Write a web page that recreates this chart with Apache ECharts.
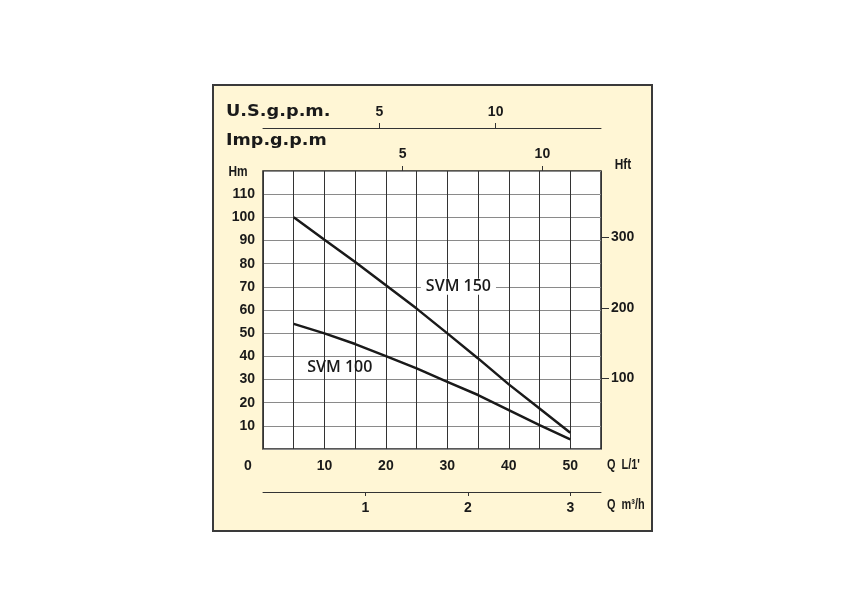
<!DOCTYPE html>
<html>
<head>
<meta charset="utf-8">
<script src="https://cdn.jsdelivr.net/npm/echarts@6/dist/echarts.min.js"></script>
<style>
  html, body { margin: 0; padding: 0; background: #fff; }
  #chart { width: 865px; height: 615px; }
</style>
</head>
<body>
<div id="chart"></div>
<script>
// flow Q (L/min) where the curves are read
var qValues = [5, 10, 15, 20, 25, 30, 35, 40, 45, 50];
// head Hm for each pump
var svm150 = [100, 90.3, 80.7, 70.7, 60.6, 49.9, 39.1, 27.9, 17.5, 7];
var svm100 = [54, 49.9, 45.3, 40.1, 34.8, 29.0, 23.3, 16.8, 10.3, 4.2];

// secondary scales
var hftTicks = [100, 200, 300];
var usTicks = [5, 10];
var impTicks = [5, 10];
var m3hTicks = [1, 2, 3];

var qMax = 55, hMax = 120;
var FT = 0.3048, US_GAL = 3.78541, IMP_GAL = 4.54609, M3H = 1000 / 60;

var labelFont = "'Liberation Sans', sans-serif";
var ink = '#1a1a1a';

function pairs(xs, ys) {
  return xs.map(function (x, i) { return [x, ys[i]]; });
}

var chart = echarts.init(document.getElementById('chart'));

var tickLabel = { color: ink, fontFamily: labelFont, fontSize: 14, fontWeight: 'bold' };
var narrow = "bold 14px " + labelFont;
var curveLabel = { show: true, position: 'inside', formatter: '{b}', color: ink, fontFamily: "'Open Sans', sans-serif", fontSize: 16, fontWeight: 600 };

chart.setOption({
  animation: false,
  graphic: [
    { type: 'rect', z: -1, shape: { x: 213, y: 85, width: 439, height: 446 },
      style: { fill: '#fff6d5', stroke: '#3a3a3a', lineWidth: 2 } },
    { type: 'text', z: 100, x: 226, y: 112, scaleX: 1.18, style: { text: 'U.S.g.p.m.', fill: ink, font: "bold 15px 'DejaVu Sans'", verticalAlign: 'middle' } },
    { type: 'text', z: 100, x: 226, y: 141, scaleX: 1.17, style: { text: 'Imp.g.p.m', fill: ink, font: "bold 15px 'DejaVu Sans'", verticalAlign: 'middle' } },
    { type: 'text', z: 100, x: 238, y: 172, scaleX: 0.85, style: { text: 'Hm', fill: ink, font: narrow, align: 'center', verticalAlign: 'middle' } },
    { type: 'text', z: 100, x: 623, y: 165, scaleX: 0.85, style: { text: 'Hft', fill: ink, font: narrow, align: 'center', verticalAlign: 'middle' } },
    { type: 'text', z: 100, x: 248, y: 466, style: { text: '0', fill: ink, font: narrow, align: 'center', verticalAlign: 'middle' } },
    { type: 'text', z: 100, x: 607, y: 465, scaleX: 0.78, style: { text: "Q  L/1'", fill: ink, font: narrow, verticalAlign: 'middle' } },
    { type: 'text', z: 100, x: 607, y: 505, scaleX: 0.78, style: { text: 'Q  m³/h', fill: ink, font: narrow, verticalAlign: 'middle' } }
  ],
  grid: {
    left: 263, top: 171, right: 264, bottom: 166,
    show: true, backgroundColor: '#fff', borderColor: '#222', borderWidth: 1.5
  },
  xAxis: [
    {
      type: 'value', position: 'bottom', min: 0, max: qMax, interval: 5,
      axisLine: { show: false, onZero: false }, axisTick: { show: false },
      axisLabel: Object.assign({ margin: 10, formatter: function (v) { return v > 0 && v % 10 === 0 && v <= 50 ? v : ''; } }, tickLabel),
      splitLine: { show: true, lineStyle: { color: '#333', width: 1 } }
    },
    {
      type: 'value', position: 'top', offset: 0, min: 0, max: qMax / IMP_GAL,
      axisLine: { show: false, onZero: false },
      axisTick: { show: true, length: 5, customValues: impTicks, lineStyle: { color: '#333' } },
      axisLabel: Object.assign({ margin: 10, customValues: impTicks }, tickLabel),
      splitLine: { show: false }
    },
    {
      type: 'value', position: 'top', offset: 43, min: 0, max: qMax / US_GAL,
      axisLine: { show: true, onZero: false, lineStyle: { color: '#333', width: 1 } },
      axisTick: { show: true, length: 5, customValues: usTicks, lineStyle: { color: '#333' } },
      axisLabel: Object.assign({ margin: 9, customValues: usTicks }, tickLabel),
      splitLine: { show: false }
    },
    {
      type: 'value', position: 'bottom', offset: 43, min: 0, max: qMax / M3H,
      axisLine: { show: true, onZero: false, lineStyle: { color: '#333', width: 1 } },
      axisTick: { show: true, length: 4, customValues: m3hTicks, lineStyle: { color: '#333' } },
      axisLabel: Object.assign({ margin: 9, customValues: m3hTicks }, tickLabel),
      splitLine: { show: false }
    }
  ],
  yAxis: [
    {
      type: 'value', position: 'left', min: 0, max: hMax, interval: 10,
      axisLine: { show: false, onZero: false }, axisTick: { show: false },
      axisLabel: Object.assign({ margin: 8, formatter: function (v) { return v > 0 && v < hMax ? v : ''; } }, tickLabel),
      splitLine: { show: true, lineStyle: { color: '#8a8a8a', width: 1 } }
    },
    {
      type: 'value', position: 'right', min: 0, max: hMax / FT,
      axisLine: { show: false, onZero: false },
      axisTick: { show: true, length: 8, customValues: hftTicks, lineStyle: { color: '#333' } },
      axisLabel: Object.assign({ margin: 10, customValues: hftTicks }, tickLabel),
      splitLine: { show: false }
    }
  ],
  series: [
    {
      name: 'SVM 150', type: 'line', xAxisIndex: 0, yAxisIndex: 0,
      showSymbol: false, data: pairs(qValues, svm150),
      lineStyle: { color: '#1a1a1a', width: 2.5 },
      markPoint: {
        symbol: 'rect', symbolSize: 1, itemStyle: { color: 'transparent' },
        label: Object.assign({ backgroundColor: '#fff', padding: [0, 5] }, curveLabel),
        data: [{ name: 'SVM 150', coord: [31.8, 70] }]
      }
    },
    {
      name: 'SVM 100', type: 'line', xAxisIndex: 0, yAxisIndex: 0,
      showSymbol: false, data: pairs(qValues, svm100),
      lineStyle: { color: '#1a1a1a', width: 2.5 },
      markPoint: {
        symbol: 'rect', symbolSize: 1, itemStyle: { color: 'transparent' },
        label: curveLabel,
        data: [{ name: 'SVM 100', coord: [12.5, 35] }]
      }
    }
  ]
});
</script>
</body>
</html>
